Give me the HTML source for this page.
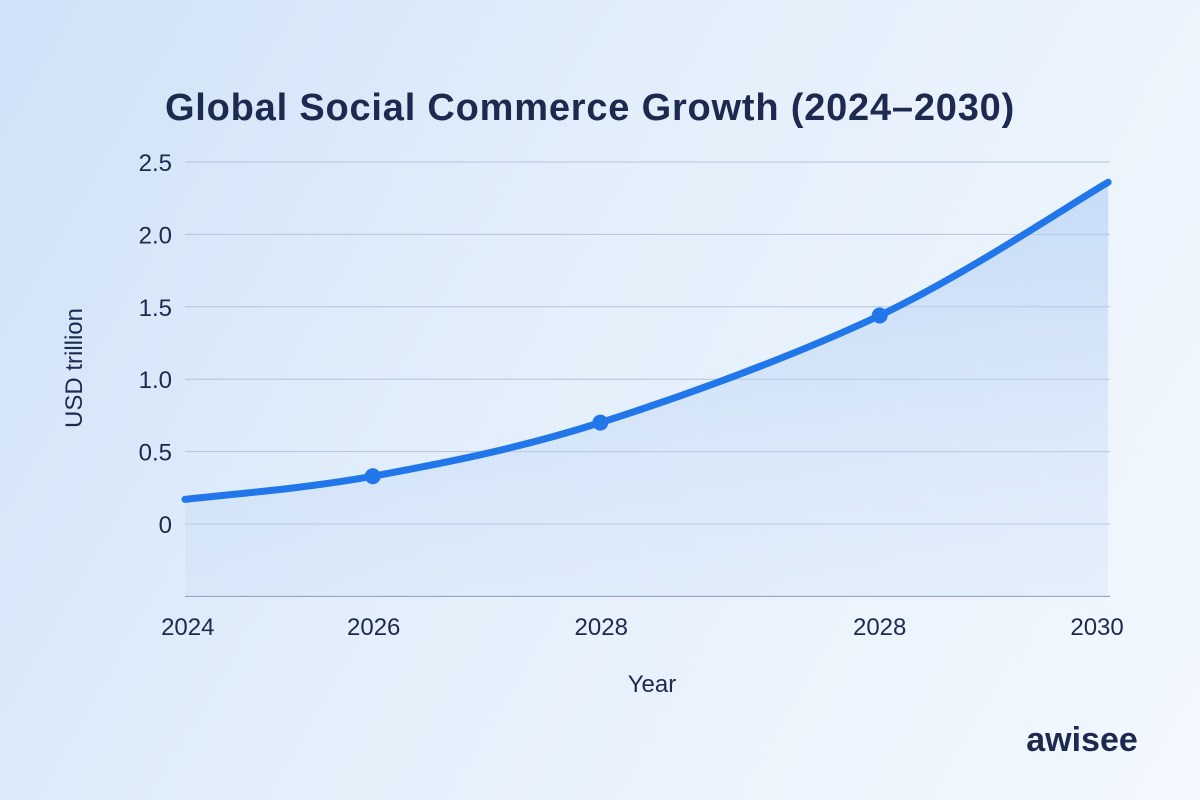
<!DOCTYPE html>
<html><head><meta charset="utf-8">
<style>
html,body{margin:0;padding:0;}
body{width:1200px;height:800px;overflow:hidden;background:linear-gradient(120deg,#cfe2f8 0%,#e4effb 45%,#f3f8fe 100%);font-family:"Liberation Sans",sans-serif;}
svg{display:block}
</style></head>
<body>
<svg id="chart" width="1200" height="800">
<defs>
<linearGradient id="fillg" x1="0" y1="0" x2="0" y2="1">
<stop offset="0" stop-color="#a9c9f2" stop-opacity="0.55"/>
<stop offset="1" stop-color="#c7dcf6" stop-opacity="0.25"/>
</linearGradient>
</defs>
<text x="590" y="120" text-anchor="middle" font-size="38" letter-spacing="0.8" font-weight="bold" fill="#1b2a4e">Global Social Commerce Growth (2024–2030)</text>
<g id="grid"></g>
<g id="series"></g>
<text transform="translate(82,368) rotate(-90)" text-anchor="middle" font-size="24" fill="#1b2a4e">USD trillion</text>
<text x="652" y="692" text-anchor="middle" font-size="24" fill="#1b2a4e">Year</text>
<text x="1082" y="751" text-anchor="middle" font-size="34" font-weight="bold" fill="#1b2a4e">awisee</text>
</svg>
<script>
const yTicks=[0,0.5,1.0,1.5,2.0,2.5];
const yTickLabels=["0","0.5","1.0","1.5","2.0","2.5"];
const xTickPos=[0.003,0.204,0.45,0.751,0.986];
const xTickLabels=["2024","2026","2028","2028","2030"];
const pointX=[0,0.203,0.449,0.751,0.998];
const pointY=[0.17,0.33,0.70,1.44,2.36];
const markerIdx=[1,2,3];
const NS="http://www.w3.org/2000/svg";
const X0=185,X1=1110,Yb=524,Yt=162;
const sx=v=>X0+v*(X1-X0);
const sy=v=>Yb-v*(Yb-Yt)/2.5;
const grid=document.getElementById('grid'),ser=document.getElementById('series');
function mk(t,a,p){const e=document.createElementNS(NS,t);for(const k in a)e.setAttribute(k,a[k]);p.appendChild(e);return e;}
[-0.5,...yTicks].forEach(v=>{
 const l=mk('line',{x1:X0,x2:X1,y1:sy(v),y2:sy(v),stroke:v===-0.5?'#7f95b5':'#b4c4d8','stroke-width':1},grid);
 
 
});
yTicks.forEach((v,i)=>{
 const t=mk('text',{x:172,y:sy(v)+9,'text-anchor':'end','font-size':24,fill:'#1b2a4e'},grid);
 t.textContent=yTickLabels[i];
 
 
});
xTickPos.forEach((v,i)=>{
 const t=mk('text',{x:sx(v),y:635,'text-anchor':'middle','font-size':24,fill:'#1b2a4e'},grid);
 t.textContent=xTickLabels[i];
 
 
});
const pts=pointX.map((x,i)=>[sx(x),sy(pointY[i])]);
function curve(p){let d='M'+p[0][0]+','+p[0][1];for(let i=0;i<p.length-1;i++){const a=p[i-1]||p[i],b=p[i],c=p[i+1],e=p[i+2]||c;
 d+=' C'+(b[0]+(c[0]-a[0])/6)+','+(b[1]+(c[1]-a[1])/6)+' '+(c[0]-(e[0]-b[0])/6)+','+(c[1]-(e[1]-b[1])/6)+' '+c[0]+','+c[1];}return d;}
const d=curve(pts);
const area=mk('path',{d:d+' L'+pts[pts.length-1][0]+','+sy(-0.5)+' L'+pts[0][0]+','+sy(-0.5)+' Z',fill:'url(#fillg)'},ser);


const line=mk('path',{d:d,fill:'none',stroke:'#2176ea','stroke-width':7,'stroke-linecap':'round'},ser);


markerIdx.forEach(i=>{
 const c=mk('circle',{cx:pts[i][0],cy:pts[i][1],r:8,fill:'#2176ea'},ser);
 
 
});
</script>
</body></html>
